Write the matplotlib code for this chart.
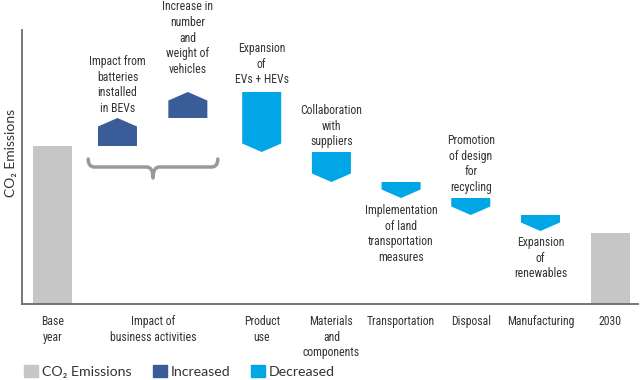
import numpy as np
import matplotlib
matplotlib.use("Agg")
import matplotlib.pyplot as plt
from matplotlib.patches import Polygon, Patch, PathPatch
from matplotlib.path import Path
from matplotlib import font_manager

# values (arbitrary units)
base_value = 158
end_value = 71
deltas = [28, 26, -60, -30, -16, -17, -16]
notes = ["Impact from\nbatteries\ninstalled\nin BEVs",
         "Increase in\nnumber\nand\nweight of\nvehicles",
         "Expansion\nof\nEVs + HEVs",
         "Collaboration\nwith\nsuppliers",
         "Implementation\nof land\ntransportation\nmeasures",
         "Promotion\nof design\nfor\nrecycling",
         "Expansion\nof\nrenewables"]
tick_labels = ["Base\nyear", "Impact of\nbusiness activities", "Product\nuse",
               "Materials\nand\ncomponents", "Transportation", "Disposal",
               "Manufacturing", "2030"]

# layout
x_pos = [0, 0.93, 1.94, 3, 4, 5, 6, 7, 8]
tick_pos = [0, 1.44, 3, 4, 5, 6, 7, 8]
note_y = [219, 266, 240, 178, 70, 140, 46]
bar_w = 0.56
head = 8.5

gray = "#c6c6c6"
dark = "#3a5d99"
light = "#00a6e6"
txt = "#333333"

names = {f.name for f in font_manager.fontManager.ttflist}
narrow = "DejaVu Sans"
for cand in ["Roboto Condensed", "Liberation Sans Narrow", "Open Sans Condensed", "Roboto"]:
    if cand in names:
        narrow = cand
        break
wide = ["Lato", "DejaVu Sans"]

fig = plt.figure(figsize=(6.4, 3.8), dpi=100)
ax = fig.add_axes([22 / 640, 0.2, 616 / 640, 274 / 380])
ax.set_xlim(-0.44, 8.4)
ax.set_ylim(0, 274)

# totals
ax.bar([x_pos[0], x_pos[-1]], [base_value, end_value], width=bar_w, color=gray)

# step arrows
level = base_value
for i, d in enumerate(deltas):
    xc = x_pos[i + 1]
    x0, x1 = xc - bar_w / 2, xc + bar_w / 2
    start, end = level, level + d
    if d > 0:
        body = end - head
        col = dark
    else:
        body = end + head
        col = light
    pts = [(x0, start), (x1, start), (x1, body), (xc, end), (x0, body)]
    ax.add_patch(Polygon(pts, closed=True, facecolor=col, edgecolor="none"))
    ax.text(xc, note_y[i], notes[i], ha="center", va="center", fontsize=8.5,
            family=narrow, color=txt, linespacing=1.26)
    level = end

# brace under the two business arrows
L, R, C = 0.51, 2.37, 1.44
ye, yl, yt = 145, 137, 126
r = 0.09
verts = [(L, ye), (L, yl), (L + r, yl), (C - r, yl), (C, yl), (C, yt),
         (C, yl), (C + r, yl), (R - r, yl), (R, yl), (R, ye)]
codes = [Path.MOVETO, Path.CURVE3, Path.CURVE3, Path.LINETO, Path.CURVE3, Path.CURVE3,
         Path.CURVE3, Path.CURVE3, Path.LINETO, Path.CURVE3, Path.CURVE3]
ax.add_patch(PathPatch(Path(verts, codes), facecolor="none", edgecolor="#999999",
                       lw=2.5, capstyle="round", joinstyle="round"))

for s in ["top", "right"]:
    ax.spines[s].set_visible(False)
for s in ["left", "bottom"]:
    ax.spines[s].set_color("#6b6b6b")
    ax.spines[s].set_linewidth(1.3)
ax.set_yticks([])
ax.set_xticks(tick_pos)
ax.set_xticklabels(tick_labels, fontsize=8.5, family=narrow, color=txt, va="top",
                   linespacing=1.26)
ax.tick_params(axis="x", length=0, pad=8)

ax.set_ylabel("CO₂ Emissions", fontsize=10, family=wide, color=txt)
ax.yaxis.set_label_coords(-0.008, 0.55)

handles = [Patch(color=gray, label="CO₂ Emissions"),
           Patch(color=dark, label="Increased"),
           Patch(color=light, label="Decreased")]
fig.legend(handles=handles, loc="lower left", bbox_to_anchor=(0.018, -0.028), ncol=3,
           frameon=False, handlelength=1.0, handleheight=1.0, handletextpad=0.25,
           columnspacing=1.5, prop={"family": wide, "size": 10.2}, labelcolor=txt)

fig.savefig("out.png", dpi=100)
